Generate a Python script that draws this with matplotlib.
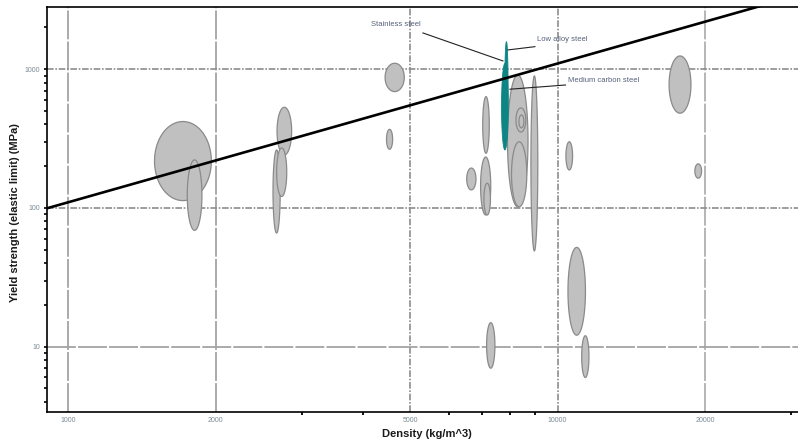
import numpy as np
import matplotlib
matplotlib.use("Agg")
import matplotlib.pyplot as plt
from matplotlib.ticker import FixedLocator, FixedFormatter, NullFormatter

plt.rcParams['font.family'] = ['Liberation Sans', 'DejaVu Sans']

# ---- data: material property ranges (density kg/m^3, yield strength MPa) ----
grey_names = ["E1", "E2", "E3", "E4", "E5", "E6", "E7", "E8", "E9", "E10", "E11", "E12", "E13",
              "S1", "S2", "S3", "S4", "S5", "S6", "S7", "S8", "S9"]
grey_rho_lo = [1500, 1750, 2670, 2620, 2665, 4440, 4470, 16900, 19080, 10400, 10500, 11200, 7160,
               7900, 8050, 8220, 8335, 8820, 7030, 6520, 6960, 7070]
grey_rho_hi = [1960, 1875, 2860, 2710, 2795, 4860, 4600, 18730, 19690, 10730, 11400, 11590, 7445,
               8700, 8650, 8610, 8533, 9110, 7250, 6810, 7300, 7290]
grey_sig_lo = [113, 69, 241, 66, 121, 690, 265, 482, 164, 188, 12.1, 6.0, 7.0,
               102, 102, 353, 378, 49, 248, 135, 89, 89]
grey_sig_hi = [420, 222, 532, 262, 271, 1105, 369, 1247, 208, 300, 52, 12.0, 14.9,
               910, 300, 526, 468, 895, 635, 194, 233, 151]

steel_names = ["Stainless steel", "Low alloy steel"]
steel_rho_lo = [7680, 7800]
steel_rho_hi = [7930, 7920]
steel_sig_lo = [262, 400]
steel_sig_hi = [1100, 1580]

guide_rho = [900, 31000]
guide_ratio = 0.110  # yield / density along guide line (slope 1 on log-log)

x_major = [1000, 2000, 5000, 10000, 20000]
x_major_labels = ["1000", "2000", "5000", "10000", "20000"]
x_minor = [3000, 4000, 6000, 7000, 8000, 9000, 30000]
y_major = [10, 100, 1000]
y_major_labels = ["10", "100", "1000"]

GREY_FACE = "#c0c0c0"
GREY_EDGE = "#8a8a8a"
TEAL = "#0e8585"

fig = plt.figure(figsize=(7.98, 4.46), dpi=100)
ax = fig.add_axes([0.0585, 0.0769, 0.9415, 0.9074])
ax.set_xscale("log")
ax.set_yscale("log")
ax.set_xlim(903, 31000)
ax.set_ylim(3.4, 2810)


def log_ellipse(lo_x, hi_x, lo_y, hi_y, n=120):
    lx0, lx1 = np.log10(lo_x), np.log10(hi_x)
    ly0, ly1 = np.log10(lo_y), np.log10(hi_y)
    cx, cy = (lx0 + lx1) / 2, (ly0 + ly1) / 2
    rx, ry = (lx1 - lx0) / 2, (ly1 - ly0) / 2
    t = np.linspace(0, 2 * np.pi, n)
    return 10 ** (cx + rx * np.cos(t)), 10 ** (cy + ry * np.sin(t))


# grid lines with individual styles
long_dash = (0, (16, 1.2))
dash_dot = (0, (4, 1, 1, 1))
grid_specs_x = [
    (1000, "#a4a4a4", long_dash, 1.3),
    (2000, "#a4a4a4", long_dash, 1.3),
    (5000, "#8c8c8c", dash_dot, 1.2),
    (10000, "#8c8c8c", dash_dot, 1.2),
    (20000, "#b0b0b0", long_dash, 1.3),
]
grid_specs_y = [
    (1000, "#8c8c8c", dash_dot, 1.2),
    (100, "#8c8c8c", dash_dot, 1.2),
    (10, "#a4a4a4", long_dash, 1.3),
]
for v, c, ls, lw in grid_specs_x:
    ax.axvline(v, color=c, ls=ls, lw=lw, zorder=1)
for v, c, ls, lw in grid_specs_y:
    ax.axhline(v, color=c, ls=ls, lw=lw, zorder=1)

for i in range(len(grey_names)):
    ex, ey = log_ellipse(grey_rho_lo[i], grey_rho_hi[i], grey_sig_lo[i], grey_sig_hi[i])
    ax.fill(ex, ey, facecolor=GREY_FACE, edgecolor=GREY_EDGE, lw=0.9, zorder=2)

for i in range(len(steel_names)):
    ex, ey = log_ellipse(steel_rho_lo[i], steel_rho_hi[i], steel_sig_lo[i], steel_sig_hi[i])
    ax.fill(ex, ey, facecolor=TEAL, edgecolor=TEAL, lw=0.6, zorder=3)

gx = np.array(guide_rho, dtype=float)
ax.plot(gx, gx * guide_ratio, color="black", lw=1.9, zorder=4, solid_capstyle="butt")

# annotations
ann_color = "#55617a"
annotations = [
    ("Stainless steel", (7730, 1148), (5305, 1827), (4149, 2110)),
    ("Low alloy steel", (7916, 1378), (8987, 1455), (9060, 1627)),
    ("Medium carbon steel", (7990, 718), (10380, 770), (10510, 823)),
]
for label, p0, p1, ptxt in annotations:
    ax.plot([p0[0], p1[0]], [p0[1], p1[1]], color="#222222", lw=0.8, zorder=5)
    ax.text(ptxt[0], ptxt[1], label, fontsize=5.5, color=ann_color, ha="left", va="center", zorder=6)

# ticks
ax.xaxis.set_major_locator(FixedLocator(x_major))
ax.xaxis.set_major_formatter(FixedFormatter(x_major_labels))
ax.xaxis.set_minor_locator(FixedLocator(x_minor))
ax.xaxis.set_minor_formatter(NullFormatter())
ax.yaxis.set_major_locator(FixedLocator(y_major))
ax.yaxis.set_major_formatter(FixedFormatter(y_major_labels))
ymin = [m * d for d in [1, 10, 100, 1000] for m in range(2, 10) if 3.4 <= m * d <= 2810]
ax.yaxis.set_minor_locator(FixedLocator(ymin))
ax.yaxis.set_minor_formatter(NullFormatter())

ax.tick_params(axis="x", which="major", length=0, pad=4, labelsize=5, labelcolor="#7a8a95")
ax.tick_params(axis="x", which="minor", length=2.5, width=1.3, direction="out", color="black")
ax.tick_params(axis="y", which="major", length=2.2, width=1.2, pad=2.5, labelsize=5, labelcolor="#7a8a95")
ax.tick_params(axis="y", which="minor", length=2.2, width=1.2, direction="out", color="black")

for s in ["left", "bottom", "top"]:
    ax.spines[s].set_linewidth(1.2)
    ax.spines[s].set_color("black")
ax.spines["right"].set_visible(False)

fig.text(427 / 798, 1 - 434 / 446, "Density (kg/m^3)", fontsize=8, fontweight="bold",
         ha="center", va="center", color="#1a1a1a")
fig.text(15 / 798, 1 - 213 / 446, "Yield strength (elastic limit) (MPa)", fontsize=8,
         fontweight="bold", rotation=90, ha="center", va="center", color="#1a1a1a")

fig.savefig("out.png", dpi=100)
